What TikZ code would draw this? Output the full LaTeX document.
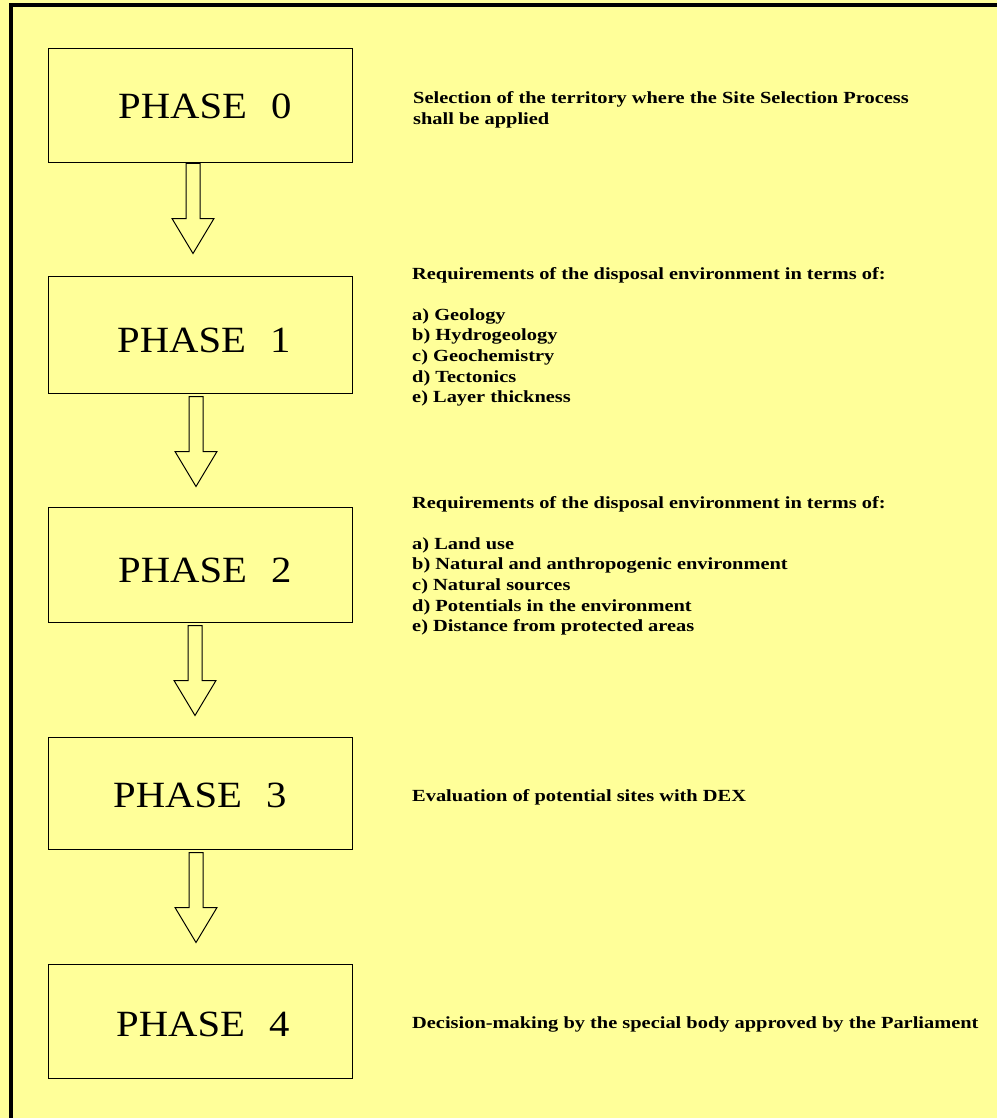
\documentclass[tikz,border=0pt]{standalone}
\usepackage{fontspec}
\setmainfont{Liberation Serif}
\newfontfamily\notefont[FakeStretch=1.2]{Liberation Serif}
\newfontfamily\titlefont[FakeStretch=1.1]{Liberation Serif}
\usetikzlibrary{calc}
\definecolor{pagebg}{RGB}{255,255,153}
\tikzset{
  phasebox/.style={draw=black, line width=1pt, minimum width=304pt, inner sep=0pt},
  phaselabel/.style={anchor=base west, inner sep=0pt, font=\titlefont\fontsize{37}{37}\selectfont},
  note/.style={anchor=base west, inner sep=0pt,
    font=\notefont\bfseries\fontsize{17}{20.6}\selectfont},
  blockarrow/.style={draw=black, line width=1pt, line join=miter}
}
% lines of a description, first baseline on the node's base
\newcommand\notelines[1]{\begin{tabular}[t]{@{}l@{}}#1\end{tabular}}
% hollow block arrow: #1 from node, #2 to node, #3 x shift, #4 gap below #1, #5 gap above #2
\newcommand\phasearrow[5]{%
  \path let \p1=($(#1.south)+(#3,#4)$), \p2=($(#2.north)+(#3,-#5)$) in
    [blockarrow] (\x1-7pt,\y1) -- (\x1-7pt,\y2+35pt) -- (\x1-21pt,\y2+35pt)
    -- (\x1,\y2) -- (\x1+21pt,\y2+35pt) -- (\x1+7pt,\y2+35pt) -- (\x1+7pt,\y1) -- cycle;}
\begin{document}
\begin{tikzpicture}[x=1pt,y=-1pt]
  \fill[pagebg] (0,0) rectangle (997,1118);
  \useasboundingbox (0,0) rectangle (997,1118);
  % frame on the top and left edges
  \draw[line width=4pt, line cap=butt, line join=miter] (11,1118) -- (11,5) -- (997,5);

  % phase boxes
  \node[phasebox, minimum height=114pt] (p0) at (200,106) {};
  \node[phasebox, minimum height=117pt] (p1) at (200,334.5) {};
  \node[phasebox, minimum height=115pt] (p2) at (200,564.5) {};
  \node[phasebox, minimum height=112pt] (p3) at (200,793) {};
  \node[phasebox, minimum height=114pt] (p4) at (200,1021) {};

  % phase titles
  \node[phaselabel] (l0) at (118,119) {PHASE\hspace{24pt}0};
  \node[phaselabel] (l1) at (117,352) {PHASE\hspace{24pt}1};
  \node[phaselabel] (l2) at (118,582) {PHASE\hspace{24pt}2};
  \node[phaselabel] (l3) at (113,807) {PHASE\hspace{24pt}3};
  \node[phaselabel] (l4) at (116,1036) {PHASE\hspace{24pt}4};

  % arrows between phases
  \phasearrow{p0}{p1}{-7}{0}{22}
  \phasearrow{p1}{p2}{-4}{3}{20}
  \phasearrow{p2}{p3}{-5}{3}{21}
  \phasearrow{p3}{p4}{-4}{3}{21}

  % descriptions
  \node[note] (d0) at (413,104) {\notelines{Selection of the territory where the Site Selection Process\\shall be applied}};
  \node[note] (d1) at (412,279) {\notelines{Requirements of the disposal environment in terms of:\\ \\
    a) Geology\\b) Hydrogeology\\c) Geochemistry\\d) Tectonics\\e) Layer thickness}};
  \node[note] (d2) at (412,508) {\notelines{Requirements of the disposal environment in terms of:\\ \\
    a) Land use\\b) Natural and anthropogenic environment\\c) Natural sources\\d) Potentials in the environment\\e) Distance from protected areas}};
  \node[note] (d3) at (412,801) {Evaluation of potential sites with DEX};
  \node[note] (d4) at (412,1028) {Decision-making by the special body approved by the Parliament};
\end{tikzpicture}
\end{document}
